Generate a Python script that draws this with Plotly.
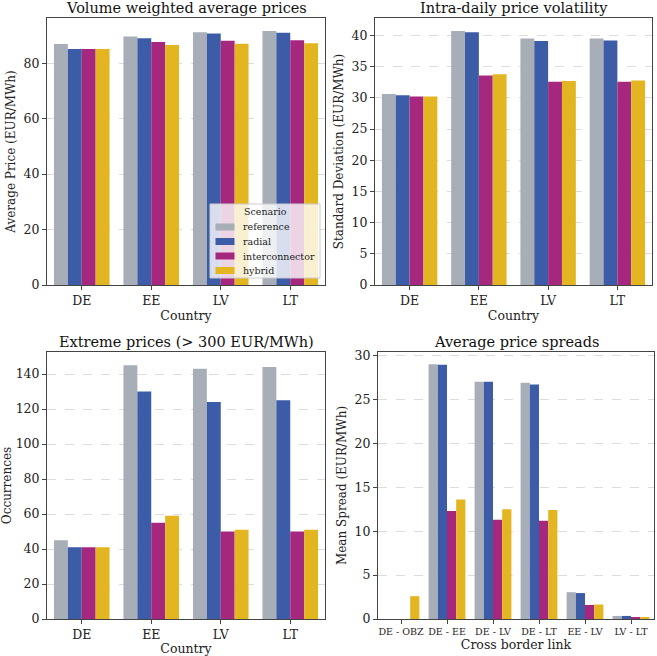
import plotly.graph_objects as go

scenarios = ["reference", "radial", "interconnector", "hybrid"]
colors = ["#a7aeb7", "#3d5ca8", "#a6287e", "#e2b521"]

countries = ["DE", "EE", "LV", "LT"]
links = ["DE - OBZ", "DE - EE", "DE - LV", "DE - LT", "EE - LV", "LV - LT"]

avg_price = {
    "reference": [86.9, 89.6, 91.2, 91.6],
    "radial": [85.1, 89.0, 90.7, 91.0],
    "interconnector": [85.1, 87.6, 88.1, 88.3],
    "hybrid": [85.1, 86.6, 87.0, 87.2],
}
volatility = {
    "reference": [30.6, 40.7, 39.5, 39.5],
    "radial": [30.4, 40.5, 39.1, 39.2],
    "interconnector": [30.2, 33.6, 32.6, 32.6],
    "hybrid": [30.2, 33.8, 32.7, 32.8],
}
extremes = {
    "reference": [45, 145, 143, 144],
    "radial": [41, 130, 124, 125],
    "interconnector": [41, 55, 50, 50],
    "hybrid": [41, 59, 51, 51],
}
spreads = {
    "reference": [0.0, 29.0, 27.0, 26.9, 3.05, 0.35],
    "radial": [0.0, 28.95, 27.0, 26.7, 2.95, 0.35],
    "interconnector": [0.0, 12.3, 11.3, 11.2, 1.6, 0.2],
    "hybrid": [2.6, 13.6, 12.5, 12.4, 1.65, 0.2],
}

W, H = 657, 656
FONT = "DejaVu Serif"
fig = go.Figure()

panels = [
    ("x", "y", countries, avg_price, "Volume weighted average prices", "Country",
     "Average Price (EUR/MWh)", 47, 325, 18, 285, [0, 96.3], 20, 12.5),
    ("x2", "y2", countries, volatility, "Intra-daily price volatility", "Country",
     "Standard Deviation (EUR/MWh)", 375, 652, 18, 285, [0, 42.8], 5, 12.5),
    ("x3", "y3", countries, extremes, "Extreme prices (> 300 EUR/MWh)", "Country",
     "Occurrences", 47, 325, 352, 619, [0, 152.6], 20, 12.5),
    ("x4", "y4", links, spreads, "Average price spreads", "Cross border link",
     "Mean Spread (EUR/MWh)", 378, 654, 352, 619, [0, 30.4], 5, 9.5),
]

layout = {}
for i, (xa, ya, cats, data, title, xt, yt, x0, x1, y0, y1, yr, dt, tf) in enumerate(panels):
    for s, c in zip(scenarios, colors):
        fig.add_trace(go.Bar(
            x=cats, y=data[s], name=s, marker=dict(color=c, line=dict(width=0)),
            xaxis=xa, yaxis=ya, showlegend=False, legendgroup=s,
            offsetgroup=s,
        ))
    xkey = "xaxis" + ("" if xa == "x" else xa[1:])
    ykey = "yaxis" + ("" if ya == "y" else ya[1:])
    layout[xkey] = dict(
        domain=[x0 / W, x1 / W], anchor=ya, range=[-0.5, len(cats) - 0.5],
        showline=True, linecolor="#444444", linewidth=1, mirror=True,
        ticks="outside", ticklen=4, tickcolor="#444444", automargin=False,
        showgrid=False, tickfont=dict(family=FONT, size=tf, color="#222"),
        title=dict(text=xt, font=dict(family=FONT, size=12.5, color="#222"), standoff=3),
    )
    layout[ykey] = dict(
        domain=[1 - y1 / H, 1 - y0 / H], anchor=xa, range=yr, dtick=dt,
        showline=True, linecolor="#444444", linewidth=1, mirror=True,
        ticks="outside", ticklen=4, tickcolor="#444444", automargin=False,
        showgrid=True, gridcolor="#dcdcdc", griddash="dash", gridwidth=1,
        zeroline=False, tickfont=dict(family=FONT, size=12.5, color="#222"),
        title=dict(text=yt, font=dict(family=FONT, size=12, color="#222"), standoff=5),
    )
    fig.add_annotation(
        text=title, x=(x0 + x1) / 2 / W, y=1 - (y0 - 10.5) / H, xref="paper", yref="paper",
        xanchor="center", yanchor="middle", showarrow=False, borderpad=0,
        font=dict(family=FONT, size=14.5, color="#111"),
    )

# Legend (drawn in the top-left panel, lower right corner)
def px(x):
    return x / W

def py(y):
    return 1 - y / H

LX0, LX1, LY0, LY1 = 210, 320, 204, 278
fig.add_shape(type="rect", xref="paper", yref="paper",
              x0=px(LX0), x1=px(LX1), y0=py(LY1), y1=py(LY0),
              fillcolor="rgba(255,255,255,0.8)", line=dict(color="#cccccc", width=1))
fig.add_annotation(text="Scenario", x=px(265), y=py(211.5), xref="paper", yref="paper",
                   xanchor="center", yanchor="middle", showarrow=False,
                   font=dict(family=FONT, size=9.5, color="#222"))
row_y = [227, 241.5, 256, 270.5]
for s, c, ry in zip(scenarios, colors, row_y):
    fig.add_shape(type="rect", xref="paper", yref="paper",
                  x0=px(215.5), x1=px(234.5), y0=py(ry + 3.5), y1=py(ry - 3.5),
                  fillcolor=c, line=dict(width=0))
    fig.add_annotation(text=s, x=px(241), y=py(ry), xref="paper", yref="paper",
                       xanchor="left", yanchor="middle", showarrow=False,
                       font=dict(family=FONT, size=9.5, color="#222"))

fig.update_layout(
    **layout,
    width=W, height=H,
    margin=dict(l=0, r=0, t=0, b=0, autoexpand=False),
    plot_bgcolor="white", paper_bgcolor="white",
    barmode="group", bargap=0.2, bargroupgap=0,
    font=dict(family=FONT, color="#222"),
    showlegend=False,
)

fig.write_html("out.html")
